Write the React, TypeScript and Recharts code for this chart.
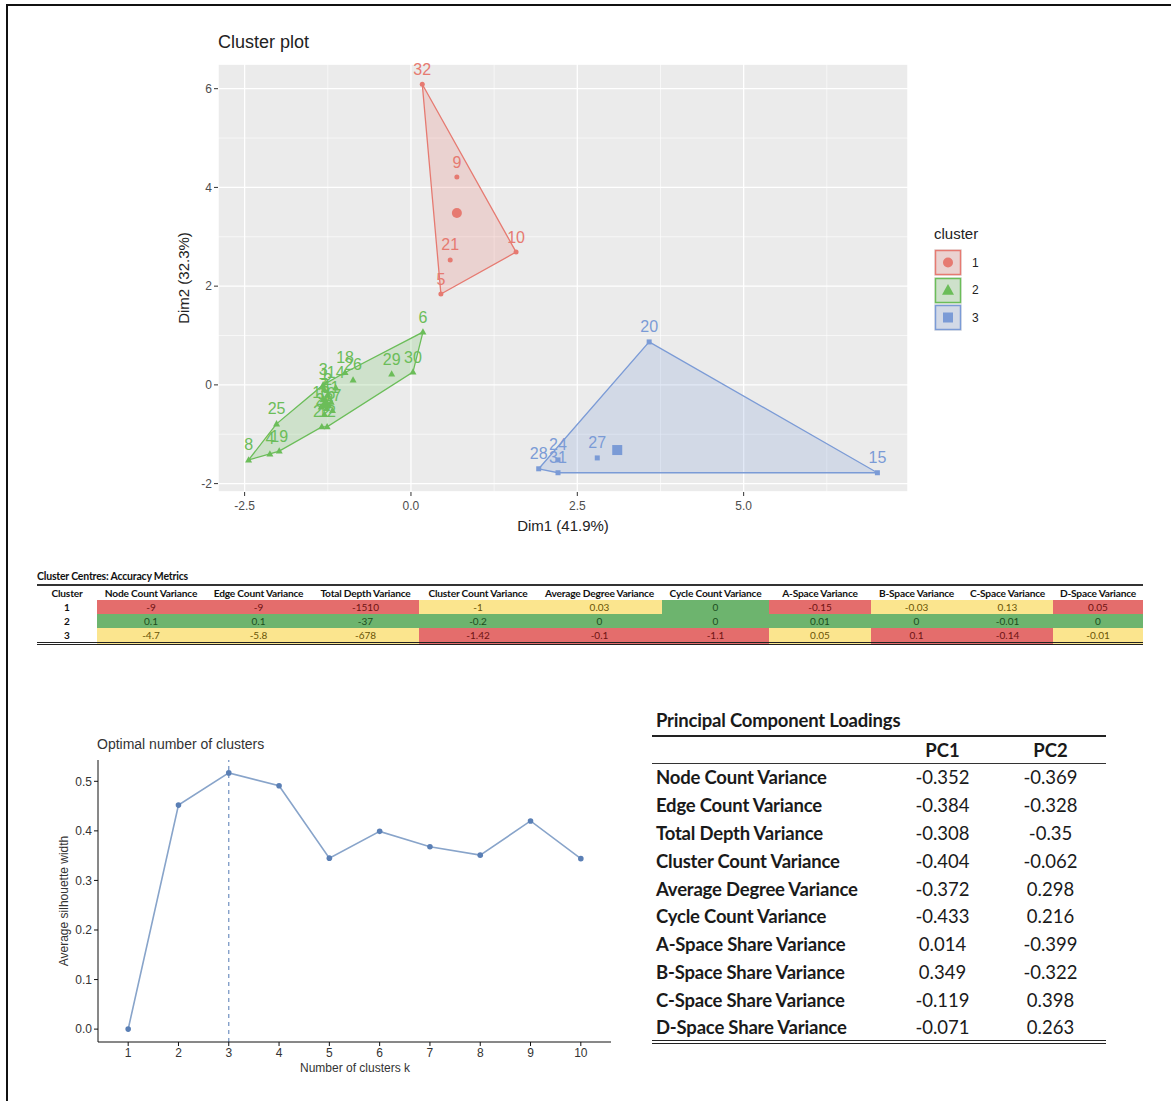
import React from "react"
import {
  ScatterChart,
  Scatter,
  XAxis,
  YAxis,
  CartesianGrid,
  LabelList,
  LineChart,
  Line,
  ReferenceLine,
} from "recharts"

// ---- cluster plot data (PCA scores, Dim1 / Dim2) ----
const cluster1Points = [
  { id: "32", dim1: 0.17, dim2: 6.09 },
  { id: "9", dim1: 0.69, dim2: 4.21 },
  { id: "10", dim1: 1.58, dim2: 2.69 },
  { id: "21", dim1: 0.59, dim2: 2.53 },
  { id: "5", dim1: 0.45, dim2: 1.84 },
]
const cluster2Points = [
  { id: "6", dim1: 0.18, dim2: 1.07 },
  { id: "30", dim1: 0.03, dim2: 0.26 },
  { id: "29", dim1: -0.29, dim2: 0.22 },
  { id: "18", dim1: -0.99, dim2: 0.25 },
  { id: "26", dim1: -0.87, dim2: 0.1 },
  { id: "14", dim1: -1.13, dim2: -0.06 },
  { id: "3", dim1: -1.32, dim2: 0.0 },
  { id: "1", dim1: -1.3, dim2: -0.1 },
  { id: "2", dim1: -1.25, dim2: -0.2 },
  { id: "7", dim1: -1.32, dim2: -0.3 },
  { id: "11", dim1: -1.2, dim2: -0.35 },
  { id: "13", dim1: -1.35, dim2: -0.45 },
  { id: "16", dim1: -1.27, dim2: -0.48 },
  { id: "17", dim1: -1.18, dim2: -0.52 },
  { id: "23", dim1: -1.3, dim2: -0.6 },
  { id: "22", dim1: -1.34, dim2: -0.85 },
  { id: "12", dim1: -1.26, dim2: -0.85 },
  { id: "25", dim1: -2.02, dim2: -0.79 },
  { id: "19", dim1: -1.98, dim2: -1.34 },
  { id: "4", dim1: -2.12, dim2: -1.4 },
  { id: "8", dim1: -2.44, dim2: -1.52 },
]
const cluster3Points = [
  { id: "20", dim1: 3.58, dim2: 0.87 },
  { id: "15", dim1: 7.01, dim2: -1.78 },
  { id: "27", dim1: 2.8, dim2: -1.48 },
  { id: "24", dim1: 2.21, dim2: -1.52 },
  { id: "31", dim1: 2.21, dim2: -1.78 },
  { id: "28", dim1: 1.92, dim2: -1.7 },
]
const clusterNames = ["1", "2", "3"]
const centroidDim1 = [0.69, -1.28, 3.1]
const centroidDim2 = [3.48, -0.38, -1.32]
// convex hull vertices (ids, in drawing order)
const hull1 = ["32", "10", "5"]
const hull2 = ["8", "25", "3", "18", "6", "30", "12", "22", "19", "4"]
const hull3 = ["28", "20", "15", "31"]

const dim1Ticks = [-2.5, 0, 2.5, 5]
const dim1MinorTicks = [-1.25, 1.25, 3.75, 6.25]
const dim2Ticks = [-2, 0, 2, 4, 6]
const dim2MinorTicks = [-1, 1, 3, 5]

// ---- cluster centres table ----
const centreColumns = [
  "Cluster",
  "Node Count Variance",
  "Edge Count Variance",
  "Total Depth Variance",
  "Cluster Count Variance",
  "Average Degree Variance",
  "Cycle Count Variance",
  "A-Space Variance",
  "B-Space Variance",
  "C-Space Variance",
  "D-Space Variance",
]
const centreValues1 = ["-9", "-9", "-1510", "-1", "0.03", "0", "-0.15", "-0.03", "0.13", "0.05"]
const centreValues2 = ["0.1", "0.1", "-37", "-0.2", "0", "0", "0.01", "0", "-0.01", "0"]
const centreValues3 = ["-4.7", "-5.8", "-678", "-1.42", "-0.1", "-1.1", "0.05", "0.1", "-0.14", "-0.01"]
const centreRating1 = ["r", "r", "r", "y", "y", "g", "r", "y", "y", "r"]
const centreRating2 = ["g", "g", "g", "g", "g", "g", "g", "g", "g", "g"]
const centreRating3 = ["y", "y", "y", "r", "r", "r", "y", "r", "r", "y"]

// ---- silhouette ----
const kValues = [1, 2, 3, 4, 5, 6, 7, 8, 9, 10]
const silhouetteWidths = [0.0, 0.452, 0.517, 0.491, 0.345, 0.399, 0.368, 0.351, 0.42, 0.344]
const silhouetteTicks = [0, 0.1, 0.2, 0.3, 0.4, 0.5]
const optimalK = 3

// ---- PCA loadings ----
const loadingNames = [
  "Node Count Variance",
  "Edge Count Variance",
  "Total Depth Variance",
  "Cluster Count Variance",
  "Average Degree Variance",
  "Cycle Count Variance",
  "A-Space Share Variance",
  "B-Space Share Variance",
  "C-Space Share Variance",
  "D-Space Share Variance",
]
const pc1 = ["-0.352", "-0.384", "-0.308", "-0.404", "-0.372", "-0.433", "0.014", "0.349", "-0.119", "-0.071"]
const pc2 = ["-0.369", "-0.328", "-0.35", "-0.062", "0.298", "0.216", "-0.399", "-0.322", "0.398", "0.263"]

// ---- styles ----
const COLORS = ["#E67A71", "#6BBD59", "#7B9BD6"]
const R_FONT = "'Liberation Sans', Arial, Helvetica, sans-serif"
const T_FONT = "Lato, 'Open Sans', sans-serif"
const X_DOMAIN: [number, number] = [-2.9, 7.47]
const Y_DOMAIN: [number, number] = [-2.17, 6.5]
const CELL_FILL: Record<string, string> = { r: "#E46D6C", g: "#6DB46E", y: "#FBE58E" }
const CELL_TEXT: Record<string, string> = { r: "#6E1212", g: "#1B4E1D", y: "#6A5405" }
const CENTRE_WIDTHS = [60, 108, 107, 107, 118, 125, 107, 102, 91, 91, 90]

const clusterPoints = [cluster1Points, cluster2Points, cluster3Points]
const hulls = [hull1, hull2, hull3]

function markerShape(kind: number, color: string, s: number) {
  return (p: any) => {
    const { cx, cy } = p
    if (kind === 0) return <circle cx={cx} cy={cy} r={s / 2} fill={color} />
    if (kind === 1) {
      const h = s * 0.9
      return (
        <polygon
          points={`${cx},${cy - h * 0.6} ${cx - s / 2},${cy + h * 0.4} ${cx + s / 2},${cy + h * 0.4}`}
          fill={color}
        />
      )
    }
    return <rect x={cx - s / 2} y={cy - s / 2} width={s} height={s} fill={color} />
  }
}

function ClusterPlot() {
  const hullData = hulls.map((ids, i) => {
    const pts = ids.map((id) => clusterPoints[i].find((p) => p.id === id)!)
    return [...pts, pts[0]]
  })
  return (
    <div style={{ position: "absolute", left: 0, top: 0, width: 1171, height: 540 }}>
      <ScatterChart width={1171} height={540} margin={{ top: 64, right: 263, bottom: 18, left: 158 }}>
        <XAxis xAxisId="minor" type="number" dataKey="dim1" domain={X_DOMAIN} ticks={dim1MinorTicks} allowDataOverflow hide />
        <YAxis yAxisId="minor" type="number" dataKey="dim2" domain={Y_DOMAIN} ticks={dim2MinorTicks} allowDataOverflow hide />
        <CartesianGrid xAxisId="minor" yAxisId="minor" fill="#EBEBEB" fillOpacity={1} stroke="#FFFFFF" strokeWidth={0.6} />
        <CartesianGrid fill="none" stroke="#FFFFFF" strokeWidth={1.3} />
        <XAxis
          type="number"
          dataKey="dim1"
          domain={X_DOMAIN}
          ticks={dim1Ticks}
          allowDataOverflow
          interval={0}
          height={30}
          axisLine={false}
          tickSize={4}
          tickMargin={5}
          tickLine={{ stroke: "#333" }}
          tick={{ fill: "#4D4D4D", fontSize: 12, fontFamily: R_FONT }}
          tickFormatter={(v: number) => v.toFixed(1)}
        />
        <YAxis
          type="number"
          dataKey="dim2"
          domain={Y_DOMAIN}
          ticks={dim2Ticks}
          allowDataOverflow
          interval={0}
          width={60}
          axisLine={false}
          tickSize={4}
          tickLine={{ stroke: "#333" }}
          tick={{ fill: "#4D4D4D", fontSize: 12, fontFamily: R_FONT }}
        />
        {hullData.map((d, i) => (
          <Scatter
            key={`hull${i}`}
            data={d}
            fill={COLORS[i]}
            line={{ stroke: COLORS[i], strokeWidth: 1.3, fill: COLORS[i], fillOpacity: 0.22 }}
            lineType="joint"
            shape={() => <g />}
            isAnimationActive={false}
            legendType="none"
          />
        ))}
        {clusterPoints.map((d, i) => (
          <Scatter
            key={`pts${i}`}
            data={d}
            fill={COLORS[i]}
            shape={markerShape(i, COLORS[i], i === 1 ? 7 : 5)}
            isAnimationActive={false}
          >
            <LabelList
              dataKey="id"
              position="top"
              offset={5}
              fill={COLORS[i]}
              fontSize={16}
              fontFamily={R_FONT}
            />
          </Scatter>
        ))}
        {clusterNames.map((c, i) => (
          <Scatter
            key={`ctr${c}`}
            data={[{ dim1: centroidDim1[i], dim2: centroidDim2[i] }]}
            fill={COLORS[i]}
            shape={markerShape(i, COLORS[i], i === 1 ? 13 : 10)}
            isAnimationActive={false}
          />
        ))}
      </ScatterChart>
      <div style={{ position: "absolute", left: 218, top: 32, fontFamily: R_FONT, fontSize: 18, color: "#222" }}>
        Cluster plot
      </div>
      <div
        style={{
          position: "absolute",
          left: 183,
          top: 278,
          transform: "translate(-50%, -50%) rotate(-90deg)",
          fontFamily: R_FONT,
          fontSize: 15,
          color: "#222",
          whiteSpace: "nowrap",
        }}
      >
        Dim2 (32.3%)
      </div>
      <div
        style={{
          position: "absolute",
          left: 563,
          top: 525,
          transform: "translate(-50%, -50%)",
          fontFamily: R_FONT,
          fontSize: 15,
          color: "#222",
          whiteSpace: "nowrap",
        }}
      >
        Dim1 (41.9%)
      </div>
      <div style={{ position: "absolute", left: 934, top: 225, fontFamily: R_FONT, color: "#222" }}>
        <div style={{ fontSize: 15, height: 24 }}>cluster</div>
        {clusterNames.map((c, i) => (
          <div key={c} style={{ display: "flex", alignItems: "center", height: 27.5 }}>
            <svg width={28} height={27}>
              <rect x={0} y={0} width={28} height={27} fill="#EBEBEB" />
              <rect x={1.5} y={1.5} width={25} height={24} fill={COLORS[i]} fillOpacity={0.22} stroke={COLORS[i]} strokeWidth={1.5} />
              {markerShape(i, COLORS[i], i === 1 ? 12 : 10)({ cx: 14, cy: 13.5 })}
            </svg>
            <span style={{ marginLeft: 10, fontSize: 12 }}>{c}</span>
          </div>
        ))}
      </div>
    </div>
  )
}

function CentresTable() {
  const rows = [
    { values: centreValues1, rating: centreRating1 },
    { values: centreValues2, rating: centreRating2 },
    { values: centreValues3, rating: centreRating3 },
  ]
  return (
    <div style={{ position: "absolute", left: 37, top: 569, width: 1106, fontFamily: T_FONT }}>
      <div style={{ fontSize: 10.5, fontWeight: 700, height: 15, lineHeight: "15px", color: "#111", letterSpacing: -0.2 }}>
        Cluster Centres: Accuracy Metrics
      </div>
      <table
        style={{
          width: 1106,
          borderCollapse: "collapse",
          tableLayout: "fixed",
          borderTop: "2px solid #333",
          borderBottom: "3px double #222",
          fontSize: 10,
        }}
      >
        <colgroup>
          {CENTRE_WIDTHS.map((w, i) => (
            <col key={i} style={{ width: w }} />
          ))}
        </colgroup>
        <thead>
          <tr style={{ height: 15 }}>
            {centreColumns.map((c) => (
              <th
                key={c}
                style={{ fontWeight: 700, fontSize: 10.2, padding: 0, textAlign: "center", whiteSpace: "nowrap", color: "#111", letterSpacing: -0.2 }}
              >
                {c}
              </th>
            ))}
          </tr>
        </thead>
        <tbody>
          {rows.map((r, ri) => (
            <tr key={ri} style={{ height: 14 }}>
              <td style={{ fontWeight: 700, textAlign: "center", padding: 0, color: "#111" }}>{clusterNames[ri]}</td>
              {r.values.map((v, ci) => (
                <td
                  key={ci}
                  style={{
                    background: CELL_FILL[r.rating[ci]],
                    color: CELL_TEXT[r.rating[ci]],
                    textAlign: "center",
                    padding: 0,
                    lineHeight: "14px",
                  }}
                >
                  {v}
                </td>
              ))}
            </tr>
          ))}
        </tbody>
      </table>
    </div>
  )
}

function SilhouettePlot() {
  const data = kValues.map((k, i) => ({ k, width: silhouetteWidths[i] }))
  const axisStyle = { fill: "#333", fontSize: 12, fontFamily: R_FONT }
  return (
    <div style={{ position: "absolute", left: 0, top: 700, width: 640, height: 400 }}>
      <LineChart width={640} height={400} data={data} margin={{ top: 60, right: 29, bottom: 33, left: 53 }}>
        <XAxis
          type="number"
          dataKey="k"
          domain={[0.4, 10.6]}
          ticks={kValues}
          allowDataOverflow
          interval={0}
          height={25}
          axisLine={{ stroke: "#111" }}
          tickLine={{ stroke: "#111" }}
          tickSize={4}
          tick={axisStyle}
        />
        <YAxis
          type="number"
          domain={[-0.026, 0.543]}
          ticks={silhouetteTicks}
          allowDataOverflow
          interval={0}
          width={45}
          axisLine={{ stroke: "#111" }}
          tickLine={{ stroke: "#111" }}
          tickSize={4}
          tick={axisStyle}
          tickFormatter={(v: number) => v.toFixed(1)}
        />
        <ReferenceLine x={optimalK} stroke="#6F8FC0" strokeDasharray="4 4" strokeWidth={1.2} />
        <Line
          dataKey="width"
          stroke="#88A4CA"
          strokeWidth={1.6}
          dot={{ r: 2.8, fill: "#5A7FB5", stroke: "#5A7FB5", strokeWidth: 0 }}
          isAnimationActive={false}
        />
      </LineChart>
      <div style={{ position: "absolute", left: 97, top: 36, fontFamily: R_FONT, fontSize: 14, color: "#333" }}>
        Optimal number of clusters
      </div>
      <div
        style={{
          position: "absolute",
          left: 64,
          top: 201,
          transform: "translate(-50%, -50%) rotate(-90deg)",
          fontFamily: R_FONT,
          fontSize: 12,
          color: "#333",
          whiteSpace: "nowrap",
        }}
      >
        Average silhouette width
      </div>
      <div
        style={{
          position: "absolute",
          left: 355,
          top: 368,
          transform: "translate(-50%, -50%)",
          fontFamily: R_FONT,
          fontSize: 12,
          color: "#333",
          whiteSpace: "nowrap",
        }}
      >
        Number of clusters k
      </div>
    </div>
  )
}

function LoadingsTable() {
  return (
    <div style={{ position: "absolute", left: 652, top: 706, width: 454, fontFamily: T_FONT, color: "#1A1A1A" }}>
      <div style={{ fontSize: 18.5, fontWeight: 700, height: 29, lineHeight: "29px", paddingLeft: 4, letterSpacing: -0.2 }}>
        Principal Component Loadings
      </div>
      <table
        style={{
          width: 454,
          borderCollapse: "collapse",
          tableLayout: "fixed",
          borderTop: "2.5px solid #222",
          borderBottom: "4px double #222",
          fontSize: 18.5,
        }}
      >
        <colgroup>
          <col style={{ width: 238 }} />
          <col style={{ width: 105 }} />
          <col style={{ width: 111 }} />
        </colgroup>
        <thead>
          <tr style={{ height: 27, borderBottom: "1.5px solid #333" }}>
            <th />
            <th style={{ fontWeight: 700, textAlign: "center", padding: 0 }}>PC1</th>
            <th style={{ fontWeight: 700, textAlign: "center", padding: 0 }}>PC2</th>
          </tr>
        </thead>
        <tbody>
          {loadingNames.map((n, i) => (
            <tr key={n} style={{ height: 27.9 }}>
              <td style={{ fontWeight: 700, padding: "0 0 0 4px", whiteSpace: "nowrap", letterSpacing: -0.2 }}>{n}</td>
              <td style={{ textAlign: "center", padding: 0 }}>{pc1[i]}</td>
              <td style={{ textAlign: "center", padding: 0 }}>{pc2[i]}</td>
            </tr>
          ))}
        </tbody>
      </table>
    </div>
  )
}

export default function App() {
  return (
    <div style={{ position: "absolute", left: 0, top: 0, width: 1171, height: 1101, background: "#fff", overflow: "hidden" }}>
      <div
        style={{
          position: "absolute",
          left: 6,
          top: 4,
          width: 1171,
          height: 1101,
          borderTop: "2px solid #111",
          borderLeft: "2px solid #111",
        }}
      />
      <ClusterPlot />
      <CentresTable />
      <SilhouettePlot />
      <LoadingsTable />
    </div>
  )
}
